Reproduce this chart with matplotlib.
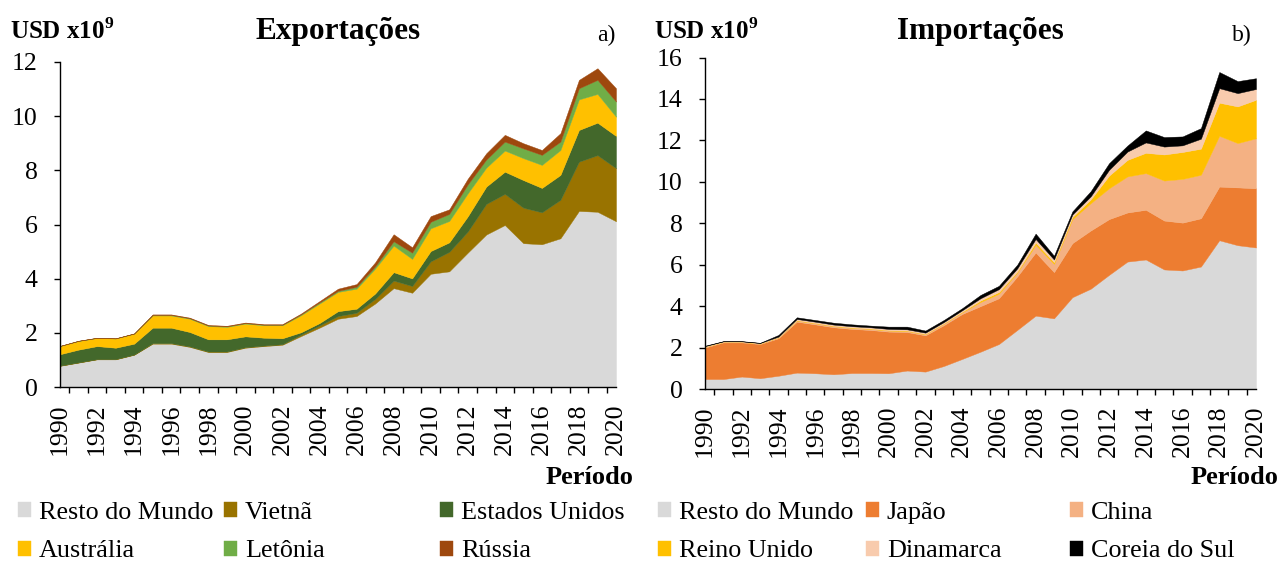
import numpy as np
import matplotlib
matplotlib.use("Agg")
import matplotlib.pyplot as plt

plt.rcParams['font.family'] = ['Liberation Serif', 'DejaVu Serif']
plt.rcParams['mathtext.fontset'] = 'custom'
plt.rcParams['mathtext.rm'] = 'Liberation Serif'
plt.rcParams['mathtext.bf'] = 'Liberation Serif:bold'

# === data (USD x10^9), 1990-2020 ===
years = np.arange(1990, 2021)

exp_labels = ['Resto do Mundo', 'Vietnã', 'Estados Unidos', 'Austrália', 'Letônia', 'Rússia']
exp_resto = [0.78, 0.90, 1.02, 1.02, 1.19, 1.60, 1.60, 1.48, 1.29, 1.29,
             1.45, 1.51, 1.56, 1.88, 2.19, 2.52, 2.62, 3.08, 3.65, 3.48,
             4.18, 4.27, 4.96, 5.63, 5.98, 5.31, 5.27, 5.49, 6.50, 6.47, 6.12]
exp_vietna = [0.01, 0.01, 0.01, 0.01, 0.01, 0.02, 0.02, 0.02, 0.02, 0.02,
              0.02, 0.02, 0.02, 0.05, 0.08, 0.10, 0.12, 0.17, 0.28, 0.25,
              0.46, 0.72, 0.78, 1.13, 1.15, 1.31, 1.18, 1.42, 1.82, 2.09, 1.96]
exp_eua = [0.42, 0.47, 0.48, 0.42, 0.40, 0.57, 0.57, 0.53, 0.45, 0.45,
           0.40, 0.29, 0.22, 0.09, 0.09, 0.18, 0.15, 0.20, 0.31, 0.28,
           0.38, 0.35, 0.56, 0.64, 0.82, 1.02, 0.90, 0.92, 1.17, 1.20, 1.19]
exp_australia = [0.30, 0.32, 0.30, 0.34, 0.37, 0.45, 0.45, 0.49, 0.49, 0.46,
                 0.47, 0.46, 0.48, 0.63, 0.72, 0.71, 0.74, 0.92, 0.98, 0.72,
                 0.84, 0.79, 0.85, 0.70, 0.78, 0.81, 0.85, 0.92, 1.13, 1.06, 0.71]
exp_letonia = [0.005, 0.005, 0.005, 0.005, 0.005, 0.02, 0.02, 0.02, 0.02, 0.02,
               0.02, 0.02, 0.02, 0.03, 0.04, 0.04, 0.07, 0.08, 0.16, 0.23,
               0.24, 0.26, 0.33, 0.30, 0.33, 0.36, 0.37, 0.31, 0.41, 0.52, 0.56]
exp_russia = [0.005, 0.005, 0.005, 0.005, 0.005, 0.02, 0.02, 0.02, 0.02, 0.02,
              0.02, 0.02, 0.02, 0.03, 0.05, 0.08, 0.10, 0.15, 0.26, 0.20,
              0.21, 0.17, 0.21, 0.23, 0.25, 0.19, 0.18, 0.31, 0.31, 0.43, 0.49]

imp_labels = ['Resto do Mundo', 'Japão', 'China', 'Reino Unido', 'Dinamarca', 'Coreia do Sul']
imp_resto = [0.48, 0.48, 0.60, 0.52, 0.64, 0.79, 0.76, 0.71, 0.77, 0.77,
             0.76, 0.89, 0.84, 1.11, 1.45, 1.80, 2.17, 2.85, 3.54, 3.41,
             4.43, 4.84, 5.51, 6.15, 6.25, 5.77, 5.72, 5.91, 7.18, 6.94, 6.83]
imp_japao = [1.52, 1.77, 1.65, 1.65, 1.81, 2.46, 2.36, 2.27, 2.13, 2.08,
             2.01, 1.86, 1.75, 1.97, 2.17, 2.20, 2.21, 2.58, 3.05, 2.23,
             2.61, 2.81, 2.69, 2.37, 2.40, 2.36, 2.31, 2.33, 2.59, 2.79, 2.86]
imp_china = [0.03, 0.02, 0.02, 0.02, 0.04, 0.05, 0.05, 0.05, 0.05, 0.05,
             0.05, 0.05, 0.05, 0.07, 0.08, 0.20, 0.22, 0.19, 0.37, 0.40,
             1.16, 1.32, 1.49, 1.74, 1.77, 1.93, 2.11, 2.10, 2.45, 2.14, 2.41]
imp_reino_unido = [0.01, 0.01, 0.01, 0.01, 0.01, 0.02, 0.02, 0.02, 0.02, 0.02,
                   0.02, 0.02, 0.02, 0.02, 0.03, 0.07, 0.08, 0.05, 0.11, 0.08,
                   0.10, 0.18, 0.61, 0.80, 0.98, 1.26, 1.30, 1.26, 1.60, 1.77, 1.86]
imp_dinamarca = [0.03, 0.02, 0.02, 0.02, 0.03, 0.06, 0.06, 0.06, 0.06, 0.06,
                 0.06, 0.06, 0.06, 0.06, 0.07, 0.11, 0.14, 0.15, 0.17, 0.13,
                 0.12, 0.15, 0.28, 0.40, 0.50, 0.38, 0.32, 0.48, 0.70, 0.64, 0.52]
imp_coreia = [0.02, 0.01, 0.01, 0.01, 0.08, 0.08, 0.08, 0.09, 0.09, 0.08,
              0.11, 0.13, 0.10, 0.10, 0.10, 0.16, 0.16, 0.18, 0.26, 0.18,
              0.15, 0.25, 0.32, 0.29, 0.58, 0.46, 0.43, 0.51, 0.78, 0.58, 0.52]

exp_colors = ['#D9D9D9', '#997300', '#43682B', '#FFC000', '#70AD47', '#9E480E']
imp_colors = ['#D9D9D9', '#ED7D31', '#F4B183', '#FFC000', '#F8CBAD', '#000000']

W, H = 1280, 564
fig = plt.figure(figsize=(12.8, 5.64), dpi=100)

ax1 = fig.add_axes([60 / W, 1 - 387 / H, 556 / W, 325 / H])
ax2 = fig.add_axes([705 / W, 1 - 389 / H, 551 / W, 331.5 / H])

p1 = ax1.stackplot(years, exp_resto, exp_vietna, exp_eua, exp_australia,
                   exp_letonia, exp_russia, colors=exp_colors, labels=exp_labels,
                   edgecolor='face', linewidth=0.3)
p2 = ax2.stackplot(years, imp_resto, imp_japao, imp_china, imp_reino_unido,
                   imp_dinamarca, imp_coreia, colors=imp_colors, labels=imp_labels,
                   edgecolor='face', linewidth=0.3)

for ax, ymax in ((ax1, 12), (ax2, 16)):
    ax.set_xlim(1990, 2020)
    ax.set_ylim(0, ymax)
    ax.set_yticks(np.arange(0, ymax + 1, 2))
    ax.set_xticks(np.arange(1990, 2021, 2))
    ax.set_xticklabels([str(y) for y in range(1990, 2021, 2)], rotation=90)
    ax.set_xticks(list(np.arange(1990.5, 2020, 1)) + [2020], minor=True)
    ax.tick_params(axis='x', which='major', length=0, pad=12, labelsize=18.5)
    ax.tick_params(axis='x', which='minor', length=4.5, width=1, direction='out')
    ax.tick_params(axis='y', length=4, width=1, pad=12, labelsize=18.5)
    for s in ('top', 'right'):
        ax.spines[s].set_visible(False)
    for s in ('left', 'bottom'):
        ax.spines[s].set_linewidth(1)

# titles and labels
for x in (10, 654):
    fig.text(x / W, 1 - 31 / H, r'USD x10$^{\mathbf{9}}$', fontsize=18,
             fontweight='bold', ha='left', va='center')
fig.text(338 / W, 1 - 31 / H, 'Exportações', fontsize=22.5, fontweight='bold',
         ha='center', va='center')
fig.text(980 / W, 1 - 31 / H, 'Importações', fontsize=22.5, fontweight='bold',
         ha='center', va='center')
fig.text(615 / W, 1 - 35 / H, 'a)', fontsize=17, ha='right', va='center')
fig.text(1252 / W, 1 - 35 / H, 'b)', fontsize=17, ha='right', va='center')
fig.text(633 / W, 1 - 478 / H, 'Período', fontsize=19, fontweight='bold',
         ha='right', va='center')
fig.text(1278 / W, 1 - 478 / H, 'Período', fontsize=19, fontweight='bold',
         ha='right', va='center')

# legends: three columns per panel, two rows each
def column_legend(handles, labels, x):
    fig.legend(handles, labels, loc='center left',
               bbox_to_anchor=(x / W, 1 - 532 / H), frameon=False,
               borderpad=0, borderaxespad=0, handlelength=0.5, handleheight=0.5,
               handletextpad=0.3, labelspacing=0.65, fontsize=18.8)

for polys, labels, xs in ((p1, exp_labels, (18, 224, 440)),
                          (p2, imp_labels, (658, 866, 1070))):
    for c in range(3):
        column_legend([polys[c], polys[c + 3]], [labels[c], labels[c + 3]], xs[c])

fig.savefig('out.png', dpi=100, facecolor='white')
